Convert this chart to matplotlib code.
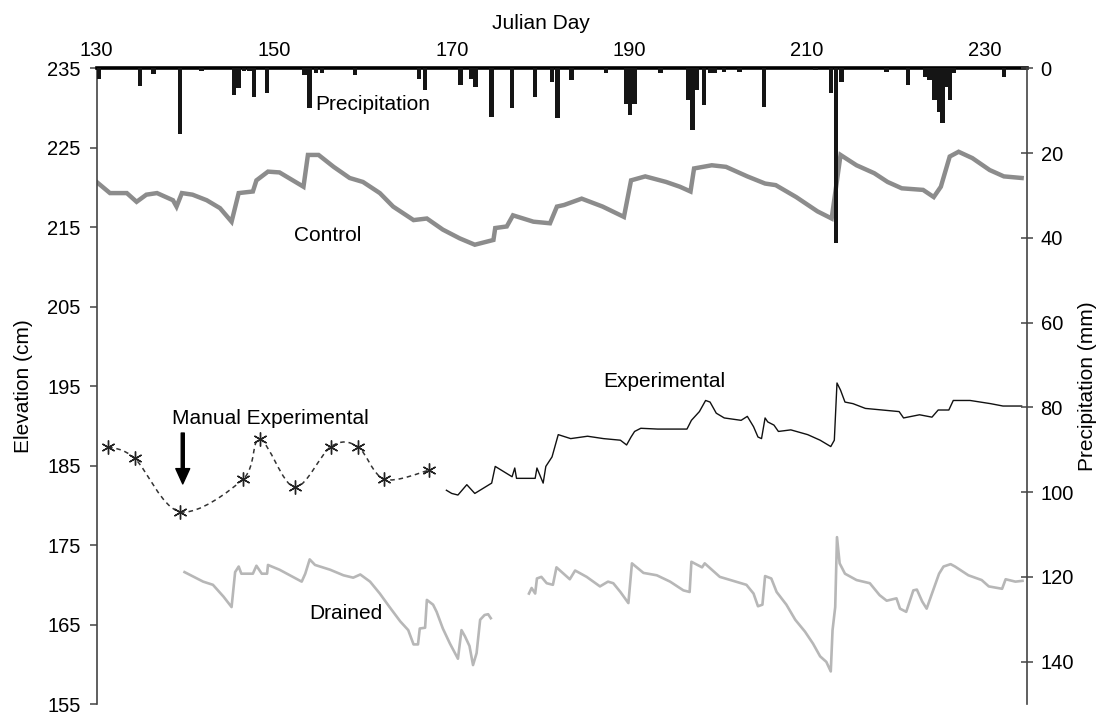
import numpy as np
import matplotlib
matplotlib.use('Agg')
from matplotlib import pyplot as plt
from matplotlib.path import Path
from matplotlib.patches import PathPatch

plt.rcParams['font.family'] = ['Liberation Sans', 'DejaVu Sans']

# Control well (grey, thick)
control_day = [130.0, 131.5, 133.4, 134.5, 135.6, 136.8, 138.6, 139.0, 139.6, 140.8, 142.4, 143.9,
               145.2, 146.0, 147.6, 148.0, 149.3, 150.6, 152.1, 153.3, 153.8, 155.0, 156.7, 158.5,
               160.0, 161.9, 163.4, 165.7, 167.2, 169.0, 170.9, 172.6, 174.7, 174.9, 176.2, 176.9,
               179.2, 181.07, 181.85, 182.65, 184.64, 187.0, 189.4, 190.2, 191.8, 194.15, 195.7,
               196.9, 197.3, 199.3, 200.9, 203.3, 205.3, 206.5, 208.8, 211.2, 212.8, 213.8, 215.6,
               217.6, 219.1, 220.7, 223.1, 224.3, 225.1, 226.1, 227.1, 228.65, 230.6, 232.2, 234.2]
control_elev = [220.7, 219.3, 219.3, 218.2, 219.1, 219.3, 218.4, 217.6, 219.3, 219.1, 218.4, 217.4,
                215.7, 219.3, 219.5, 220.9, 222.0, 221.9, 220.9, 220.1, 224.1, 224.1, 222.6, 221.2,
                220.7, 219.3, 217.6, 215.9, 216.1, 214.7, 213.6, 212.8, 213.4, 214.9, 215.1, 216.5,
                215.7, 215.5, 217.6, 217.8, 218.6, 217.6, 216.3, 220.9, 221.4, 220.7, 220.1,
                219.5, 222.4, 222.8, 222.6, 221.4, 220.5, 220.3, 218.8, 217.0, 216.1, 224.1, 222.8,
                221.8, 220.7, 219.9, 219.7, 218.8, 220.1, 223.9, 224.5, 223.7, 222.2, 221.4, 221.2]

# Experimental well (black, thin)
exp_day = [169.4, 170.0, 170.7, 171.7, 172.6, 174.5, 174.9, 176.8, 177.1, 177.3, 179.4, 179.6,
           180.3, 180.6, 181.3, 182.0, 183.4, 185.3, 187.1, 189.0, 189.7, 190.2, 190.6, 191.3,
           193.2, 196.5, 197.0, 197.9, 198.6, 199.1, 199.8, 200.7, 202.6, 203.3, 204.0, 204.5,
           204.9, 205.3, 205.6, 206.3, 206.8, 208.2, 210.1, 211.5, 212.7, 213.1, 213.4, 213.8,
           214.3, 215.2, 216.6, 218.5, 220.4, 220.9, 222.7, 224.1, 224.8, 226.0, 226.5, 228.4,
           230.7, 232.1, 234.2]
exp_elev = [181.9, 181.5, 181.3, 182.6, 181.5, 182.8, 184.9, 183.6, 184.7, 183.4, 183.4, 184.7,
            182.8, 184.9, 186.1, 188.9, 188.4, 188.7, 188.4, 188.2, 187.6, 188.6, 189.3, 189.7,
            189.6, 189.6, 190.7, 191.8, 193.2, 193.0, 191.6, 191.0, 190.7, 191.2, 189.9, 188.6,
            188.4, 191.0, 190.5, 190.1, 189.3, 189.5, 188.9, 188.2, 187.4, 188.2, 195.4, 194.5,
            193.0, 192.8, 192.2, 192.0, 191.8, 191.0, 191.4, 191.1, 192.0, 192.0, 193.2, 193.2,
            192.8, 192.5, 192.5]

# Manual experimental readings
man_day = [131.3, 134.3, 139.4, 146.5, 148.4, 152.3, 156.4, 159.4, 162.4, 167.4]
man_elev = [187.4, 185.9, 179.2, 183.3, 188.3, 182.3, 187.4, 187.4, 183.3, 184.4]

# Drained well (light grey), two recorded stretches
drained_day_1 = [139.9, 142.0, 143.1, 144.3, 145.2, 145.6, 146.0, 146.3, 147.6, 148.0, 148.6, 149.2,
                 149.3, 150.6, 152.1, 153.1, 153.5, 154.0, 154.6, 156.3, 157.8, 158.9, 159.7, 160.8,
                 161.9, 163.0, 164.2, 165.1, 165.7, 166.2, 166.4, 167.0, 167.2, 167.9, 168.3, 169.0,
                 169.8, 170.7, 171.1, 171.5, 172.0, 172.4, 172.8, 173.2, 173.7, 174.1, 174.4]
drained_elev_1 = [171.6, 170.4, 170.0, 168.5, 167.2, 171.6, 172.3, 171.4, 171.4, 172.4, 171.4, 171.4,
                  172.5, 171.9, 171.0, 170.4, 171.4, 173.2, 172.5, 171.9, 171.2, 170.9, 171.3, 170.4,
                  168.9, 167.2, 165.4, 164.3, 162.5, 162.5, 164.5, 164.6, 168.1, 167.5, 166.6, 164.5,
                  162.6, 160.7, 164.3, 163.5, 162.3, 159.9, 161.4, 165.6, 166.2, 166.3, 165.8]
drained_day_2 = [178.7, 179.0, 179.4, 179.6, 180.1, 180.7, 181.4, 181.8, 182.4, 183.3, 183.9, 185.2,
                 186.7, 187.6, 188.2, 189.0, 189.9, 190.3, 191.6, 193.1, 194.6, 196.1, 196.8, 197.0,
                 198.2, 198.5, 200.2, 201.7, 203.2, 204.0, 204.5, 205.0, 205.3, 206.0, 206.6, 207.7,
                 208.7, 209.8, 210.7, 211.5, 212.2, 212.7, 212.9, 213.2, 213.4, 213.7, 214.3, 215.6,
                 217.1, 218.2, 219.0, 220.1, 220.5, 221.2, 222.0, 222.4, 223.0, 223.5, 224.1, 224.9,
                 225.4, 226.2, 226.7, 228.2, 229.7, 230.5, 232.0, 232.4, 233.5, 234.3]
drained_elev_2 = [168.9, 169.6, 168.9, 170.8, 171.0, 170.2, 170.0, 172.2, 171.6, 170.7, 171.8, 171.0,
                  169.8, 170.4, 170.2, 169.1, 167.7, 172.7, 171.5, 171.2, 170.4, 169.3, 169.1, 172.9,
                  172.2, 172.7, 171.0, 170.5, 170.0, 168.9, 167.3, 167.5, 171.1, 170.8, 169.1, 167.5,
                  165.6, 164.1, 162.6, 161.0, 160.3, 159.1, 164.3, 167.2, 176.0, 172.7, 171.4, 170.6,
                  170.2, 168.7, 168.0, 168.3, 167.0, 166.6, 169.3, 169.4, 167.9, 167.0, 168.9, 171.4,
                  172.3, 172.6, 172.3, 171.2, 170.6, 169.8, 169.5, 170.7, 170.4, 170.5]

# Precipitation (mm), hanging from the top axis
precip_day = [130.2, 134.9, 136.4, 139.4, 141.8, 145.5, 146.0, 146.6, 147.2, 147.7, 149.2, 153.4,
              154.0, 154.7, 155.4, 159.1, 166.3, 167.0, 171.0, 172.2, 172.7, 174.5, 176.8, 179.4,
              181.3, 181.9, 183.5, 187.4, 189.7, 190.1, 190.6, 193.5, 196.6, 197.1, 197.6, 198.4,
              199.1, 199.6, 200.7, 202.4, 205.2, 211.0, 212.7, 213.3, 213.9, 219.0, 221.4, 223.3,
              223.8, 224.4, 224.9, 225.3, 225.7, 226.1, 226.6, 232.2]
precip_mm = [2.4, 4.2, 1.3, 15.4, 0.6, 6.3, 4.7, 0.6, 0.6, 6.7, 5.9, 1.6,
             9.3, 1.2, 1.2, 1.6, 2.4, 5.1, 3.9, 2.4, 4.3, 11.5, 9.3, 6.7,
             3.2, 11.8, 2.8, 1.2, 8.3, 11.0, 8.3, 1.2, 7.5, 14.6, 5.1, 8.7,
             1.2, 1.2, 0.9, 0.9, 9.1, 0.5, 5.9, 41.3, 3.2, 0.9, 3.9, 2.0,
             2.8, 7.5, 10.2, 13.0, 4.3, 7.5, 1.2, 2.0]

day_ticks = list(range(130, 231, 20))
elev_ticks = list(range(155, 236, 10))
precip_ticks = list(range(0, 141, 20))


def smooth_path(x, y, k=1 / 6):
    # Catmull-Rom through the readings, drawn as cubic Bezier segments
    pts = np.column_stack([x, y])
    p = np.vstack([pts[0], pts, pts[-1]])
    verts, codes = [pts[0]], [Path.MOVETO]
    for i in range(1, len(p) - 2):
        verts += [p[i] + (p[i + 1] - p[i - 1]) * k, p[i + 1] - (p[i + 2] - p[i]) * k, p[i + 1]]
        codes += [Path.CURVE4] * 3
    return Path(verts, codes)


fig = plt.figure(figsize=(11.02, 7.14), dpi=100)
ax = fig.add_axes([0.0877, 0.014, 0.8442, 0.8903])
ax2 = ax.twinx()

ax.plot(control_day, control_elev, color='#8c8c8c', lw=3.2, solid_joinstyle='miter')
ax.plot(drained_day_1, drained_elev_1, color='#b7b7b7', lw=1.9)
ax.plot(drained_day_2, drained_elev_2, color='#b7b7b7', lw=1.9)
ax.plot(exp_day, exp_elev, color='#111111', lw=1.0)
ax.add_patch(PathPatch(smooth_path(man_day, man_elev), fill=False, edgecolor='#333333',
                       lw=1.1, linestyle=(0, (3, 2.5))))
ax.plot(man_day, man_elev, ls='none', marker=(6, 2, 0), ms=10, mew=1.0, color='#222222')

ax2.bar(precip_day, precip_mm, width=0.5, color='#151515', linewidth=0)

txt = dict(fontsize=15, ha='center', va='baseline')
ax.text(161.1, 229.75, 'Precipitation', **txt)
ax.text(156.0, 213.3, 'Control', **txt)
ax.text(149.6, 190.2, 'Manual Experimental', **txt)
ax.text(194.0, 194.85, 'Experimental', **txt)
ax.text(158.1, 165.7, 'Drained', **txt)
ax.annotate('', xy=(139.7, 182.7), xytext=(139.7, 189.1),
            arrowprops=dict(facecolor='black', edgecolor='black', width=2.2, headwidth=10,
                            headlength=11, shrink=0))

ax.set_xlim(130, 234.8)
ax.set_ylim(155, 235)
ax2.set_ylim(150, 0)

ax.xaxis.tick_top()
ax.xaxis.set_label_position('top')
ax.set_xticks(day_ticks)
ax.set_yticks(elev_ticks)
ax2.set_yticks(precip_ticks)
ax.tick_params(axis='x', length=0, pad=6, labelsize=14.5)
ax.tick_params(axis='y', direction='out', length=5, width=1.1, color='#444444', pad=6.5,
               labelsize=14.5)
ax2.tick_params(axis='y', direction='inout', length=8.6, width=1.1, color='#444444', pad=5.5,
                labelsize=14.5)

for s in ('right', 'bottom'):
    ax.spines[s].set_visible(False)
for s in ('left', 'top', 'bottom'):
    ax2.spines[s].set_visible(False)
ax.spines['top'].set_linewidth(2.6)
ax.spines['top'].set_color('black')
ax.spines['left'].set_linewidth(1.2)
ax.spines['left'].set_color('#444444')
ax2.spines['right'].set_linewidth(1.2)
ax2.spines['right'].set_color('#444444')

ax.set_xlabel('Julian Day', fontsize=15)
ax.xaxis.set_label_coords(0.4773, 1.062)
ax.set_ylabel('Elevation (cm)', fontsize=15)
ax.yaxis.set_label_coords(-0.068, 0.5)
ax2.set_ylabel('Precipitation (mm)', fontsize=15)
ax2.yaxis.set_label_coords(1.0548, 0.5)

fig.savefig('out.png', dpi=100)
